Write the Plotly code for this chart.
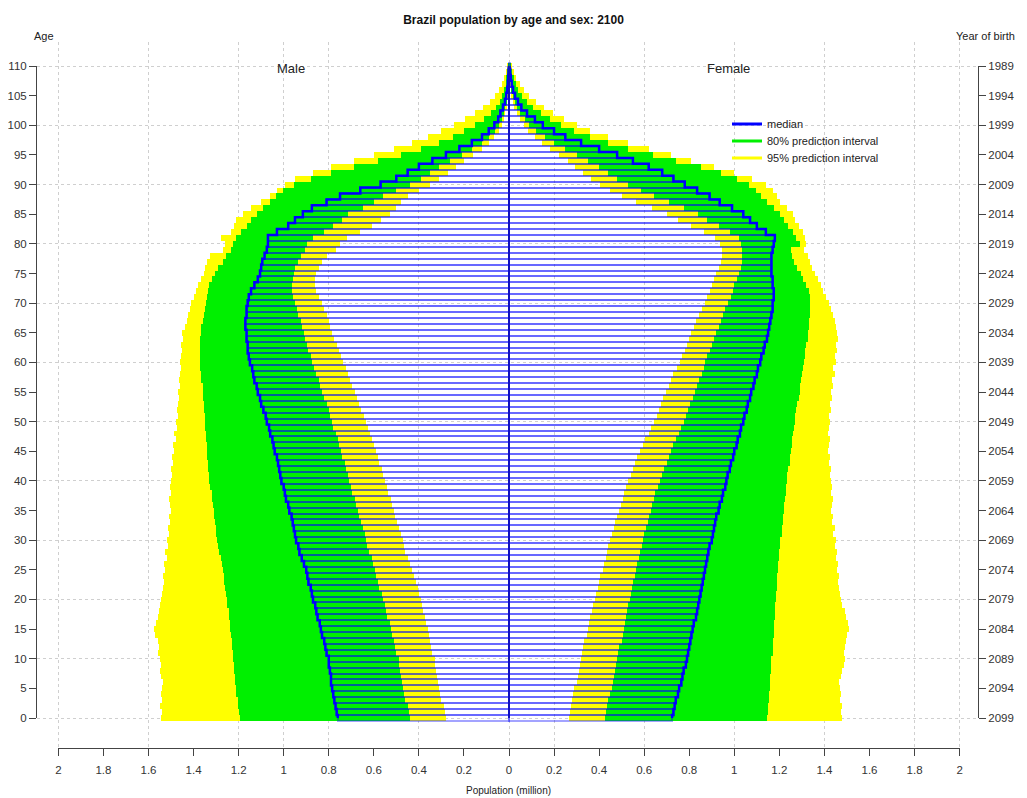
import plotly.graph_objects as go

ages = list(range(0, 111))

# Male (million)
m_med = [0.76,0.765,0.77,0.775,0.78,0.785,0.79,0.79,0.795,0.80,
 0.80,0.81,0.815,0.82,0.83,0.835,0.84,0.85,0.855,0.86,
 0.87,0.875,0.88,0.89,0.895,0.90,0.91,0.92,0.93,0.935,
 0.945,0.95,0.955,0.96,0.965,0.975,0.98,0.99,0.995,1.00,
 1.01,1.015,1.02,1.025,1.03,1.04,1.045,1.05,1.06,1.065,
 1.075,1.08,1.09,1.10,1.105,1.115,1.12,1.13,1.135,1.14,
 1.15,1.155,1.16,1.16,1.165,1.165,1.17,1.17,1.165,1.165,
 1.16,1.155,1.145,1.13,1.115,1.105,1.10,1.095,1.085,1.075,
 1.07,1.07,1.03,0.98,0.95,0.915,0.875,0.81,0.75,0.66,
 0.57,0.50,0.45,0.40,0.34,0.28,0.22,0.165,0.12,0.09,
 0.065,0.048,0.038,0.027,0.018,0.012,0.008,0.005,0.003,0.002,0.001]
m_l80 = [0.44,0.445,0.45,0.46,0.465,0.47,0.475,0.48,0.485,0.49,
 0.49,0.50,0.505,0.51,0.52,0.525,0.53,0.54,0.545,0.55,
 0.56,0.565,0.575,0.58,0.59,0.595,0.605,0.61,0.62,0.63,
 0.635,0.64,0.65,0.655,0.665,0.67,0.68,0.685,0.695,0.70,
 0.71,0.715,0.725,0.73,0.74,0.745,0.755,0.76,0.77,0.78,
 0.785,0.795,0.80,0.81,0.82,0.83,0.84,0.845,0.855,0.865,
 0.875,0.88,0.89,0.895,0.905,0.91,0.92,0.925,0.935,0.94,
 0.95,0.96,0.965,0.965,0.96,0.955,0.95,0.935,0.925,0.905,
 0.895,0.87,0.82,0.78,0.74,0.715,0.65,0.60,0.56,0.50,
 0.44,0.39,0.35,0.31,0.26,0.21,0.165,0.12,0.09,0.063,
 0.045,0.032,0.024,0.016,0.011,0.007,0.005,0.003,0.002,0.001,0.0005]
m_l95 = [0.28,0.285,0.29,0.30,0.305,0.31,0.315,0.32,0.325,0.33,
 0.33,0.34,0.345,0.35,0.355,0.36,0.37,0.375,0.38,0.385,
 0.39,0.40,0.405,0.415,0.42,0.43,0.44,0.45,0.46,0.465,
 0.47,0.48,0.49,0.495,0.505,0.51,0.52,0.525,0.535,0.54,
 0.55,0.56,0.565,0.575,0.58,0.59,0.60,0.61,0.615,0.625,
 0.635,0.645,0.655,0.665,0.675,0.685,0.695,0.705,0.715,0.725,
 0.735,0.745,0.755,0.765,0.775,0.785,0.795,0.80,0.81,0.82,
 0.83,0.845,0.855,0.86,0.86,0.855,0.845,0.83,0.81,0.77,
 0.75,0.72,0.66,0.61,0.57,0.53,0.50,0.48,0.45,0.40,
 0.35,0.31,0.27,0.235,0.20,0.16,0.12,0.09,0.065,0.045,
 0.032,0.022,0.016,0.011,0.007,0.005,0.003,0.002,0.001,0.0005,0.0002]
m_h80 = [1.195,1.20,1.205,1.205,1.21,1.21,1.215,1.215,1.22,1.22,
 1.225,1.225,1.23,1.23,1.235,1.24,1.24,1.245,1.245,1.25,
 1.25,1.255,1.26,1.265,1.265,1.27,1.275,1.28,1.285,1.29,
 1.295,1.30,1.30,1.305,1.31,1.31,1.315,1.32,1.32,1.325,
 1.33,1.33,1.335,1.335,1.34,1.34,1.34,1.345,1.345,1.35,
 1.35,1.35,1.355,1.355,1.36,1.36,1.36,1.365,1.365,1.37,
 1.37,1.37,1.37,1.37,1.37,1.365,1.365,1.36,1.355,1.35,
 1.345,1.34,1.335,1.33,1.32,1.305,1.29,1.27,1.255,1.235,
 1.225,1.21,1.19,1.165,1.145,1.12,1.09,1.06,1.035,1.005,
 0.955,0.88,0.79,0.69,0.58,0.48,0.39,0.31,0.25,0.20,
 0.15,0.11,0.08,0.058,0.042,0.03,0.021,0.015,0.01,0.006,0.004]
m_h95 = [1.545,1.54,1.55,1.54,1.545,1.54,1.535,1.545,1.55,1.545,
 1.55,1.56,1.555,1.56,1.57,1.575,1.565,1.56,1.555,1.55,
 1.545,1.54,1.535,1.53,1.535,1.525,1.53,1.52,1.525,1.515,
 1.52,1.51,1.515,1.505,1.51,1.50,1.505,1.51,1.50,1.505,
 1.50,1.495,1.50,1.49,1.495,1.485,1.49,1.48,1.485,1.475,
 1.48,1.47,1.475,1.47,1.465,1.47,1.46,1.465,1.46,1.455,
 1.46,1.455,1.45,1.455,1.445,1.45,1.44,1.43,1.425,1.415,
 1.41,1.40,1.39,1.38,1.365,1.355,1.35,1.34,1.325,1.27,
 1.26,1.28,1.235,1.22,1.21,1.18,1.145,1.10,1.06,1.03,
 0.995,0.95,0.87,0.79,0.69,0.60,0.51,0.43,0.36,0.30,
 0.245,0.195,0.15,0.115,0.085,0.062,0.045,0.032,0.022,0.015,0.01]

# Female (million)
f_med = [0.724,0.73,0.735,0.74,0.75,0.755,0.765,0.77,0.775,0.785,
 0.79,0.795,0.80,0.805,0.81,0.815,0.82,0.83,0.835,0.84,
 0.845,0.85,0.855,0.86,0.865,0.87,0.875,0.88,0.885,0.89,
 0.90,0.905,0.91,0.915,0.92,0.93,0.935,0.945,0.95,0.96,
 0.965,0.97,0.98,0.985,0.995,1.00,1.01,1.015,1.025,1.03,
 1.04,1.045,1.055,1.06,1.07,1.075,1.085,1.09,1.10,1.105,
 1.115,1.12,1.13,1.135,1.145,1.15,1.155,1.16,1.165,1.17,
 1.17,1.175,1.175,1.17,1.17,1.165,1.165,1.165,1.165,1.17,
 1.175,1.18,1.14,1.10,1.07,1.04,0.99,0.935,0.89,0.835,
 0.78,0.73,0.68,0.62,0.55,0.48,0.40,0.32,0.25,0.20,
 0.15,0.115,0.08,0.055,0.04,0.027,0.018,0.012,0.008,0.005,0.003]
f_l80 = [0.427,0.43,0.435,0.44,0.45,0.455,0.46,0.465,0.47,0.475,
 0.48,0.485,0.49,0.50,0.505,0.51,0.515,0.52,0.525,0.53,
 0.535,0.54,0.545,0.55,0.56,0.565,0.57,0.575,0.58,0.59,
 0.595,0.60,0.61,0.615,0.62,0.63,0.635,0.645,0.65,0.66,
 0.67,0.68,0.69,0.70,0.71,0.72,0.73,0.74,0.755,0.765,
 0.775,0.785,0.795,0.805,0.815,0.825,0.835,0.845,0.855,0.865,
 0.87,0.88,0.89,0.90,0.91,0.92,0.93,0.94,0.95,0.96,
 0.97,0.985,0.995,1.0,1.01,1.02,1.03,1.035,1.035,1.035,
 1.03,1.02,0.98,0.93,0.88,0.84,0.775,0.71,0.645,0.585,
 0.53,0.48,0.44,0.40,0.35,0.30,0.25,0.20,0.16,0.12,
 0.09,0.07,0.05,0.035,0.025,0.017,0.011,0.007,0.004,0.002,0.001]
f_l95 = [0.267,0.27,0.275,0.28,0.285,0.29,0.30,0.305,0.31,0.315,
 0.32,0.325,0.33,0.335,0.345,0.35,0.355,0.36,0.37,0.375,
 0.38,0.385,0.395,0.40,0.405,0.415,0.42,0.43,0.435,0.44,
 0.45,0.455,0.465,0.47,0.48,0.49,0.495,0.505,0.51,0.52,
 0.53,0.54,0.55,0.56,0.57,0.58,0.595,0.605,0.62,0.63,
 0.645,0.655,0.665,0.675,0.685,0.695,0.71,0.72,0.73,0.745,
 0.76,0.77,0.78,0.79,0.80,0.81,0.82,0.83,0.845,0.855,
 0.87,0.88,0.89,0.90,0.91,0.92,0.93,0.94,0.945,0.945,
 0.935,0.915,0.865,0.81,0.75,0.70,0.635,0.565,0.50,0.45,
 0.405,0.365,0.33,0.295,0.26,0.22,0.18,0.145,0.115,0.085,
 0.065,0.048,0.034,0.024,0.016,0.01,0.007,0.004,0.002,0.001,0.0005]
f_h80 = [1.147,1.15,1.15,1.155,1.155,1.16,1.16,1.16,1.165,1.165,
 1.165,1.17,1.17,1.17,1.175,1.175,1.175,1.18,1.18,1.18,
 1.185,1.185,1.19,1.19,1.19,1.195,1.195,1.20,1.20,1.205,
 1.205,1.21,1.21,1.215,1.215,1.22,1.22,1.225,1.23,1.23,
 1.235,1.235,1.24,1.245,1.245,1.25,1.255,1.255,1.26,1.265,
 1.27,1.27,1.275,1.28,1.285,1.29,1.29,1.295,1.30,1.305,
 1.31,1.315,1.315,1.32,1.325,1.325,1.33,1.33,1.335,1.335,
 1.335,1.335,1.33,1.32,1.305,1.295,1.28,1.265,1.255,1.25,
 1.29,1.275,1.26,1.24,1.22,1.205,1.175,1.145,1.12,1.095,
 1.065,1.01,0.94,0.85,0.74,0.64,0.53,0.44,0.36,0.29,
 0.23,0.18,0.14,0.105,0.078,0.057,0.041,0.029,0.02,0.013,0.008]
f_h95 = [1.48,1.475,1.48,1.47,1.475,1.47,1.465,1.475,1.48,1.485,
 1.49,1.485,1.49,1.495,1.50,1.51,1.505,1.495,1.49,1.48,
 1.475,1.47,1.465,1.46,1.465,1.455,1.46,1.45,1.455,1.445,
 1.45,1.44,1.445,1.435,1.44,1.43,1.435,1.44,1.43,1.435,
 1.43,1.425,1.43,1.42,1.425,1.415,1.42,1.425,1.415,1.42,
 1.425,1.42,1.43,1.425,1.435,1.43,1.44,1.435,1.445,1.44,
 1.45,1.445,1.455,1.45,1.46,1.455,1.45,1.445,1.44,1.43,
 1.42,1.405,1.395,1.385,1.37,1.36,1.345,1.335,1.325,1.31,
 1.32,1.315,1.305,1.285,1.27,1.26,1.235,1.205,1.19,1.17,
 1.14,1.08,1.00,0.91,0.81,0.72,0.62,0.53,0.44,0.36,
 0.30,0.245,0.195,0.155,0.12,0.09,0.066,0.047,0.033,0.022,0.014]

x_tick_vals = [-2, -1.8, -1.6, -1.4, -1.2, -1, -0.8, -0.6, -0.4, -0.2, 0,
               0.2, 0.4, 0.6, 0.8, 1, 1.2, 1.4, 1.6, 1.8, 2]
x_tick_text = ["2", "1.8", "1.6", "1.4", "1.2", "1", "0.8", "0.6", "0.4", "0.2", "0",
               "0.2", "0.4", "0.6", "0.8", "1", "1.2", "1.4", "1.6", "1.8", "2"]
age_ticks = [0, 5, 10, 15, 20, 25, 30, 35, 40, 45, 50, 55, 60, 65, 70, 75, 80,
             85, 90, 95, 100, 105, 110]
birth_labels = ["2099", "2094", "2089", "2084", "2079", "2074", "2069", "2064",
                "2059", "2054", "2049", "2044", "2039", "2034", "2029", "2024",
                "2019", "2014", "2009", "2004", "1999", "1994", "1989"]
grid_x = [-2, -1.6, -1.2, -1.0, -0.8, -0.4, 0, 0.2, 0.6, 1.0, 1.4, 1.8, 2.0]
grid_y = [0, 10, 20, 30, 40, 50, 60, 70, 80, 90, 100, 110]
legend_names = ["median", "80% prediction interval", "95% prediction interval"]

YELLOW = "#FFFF00"
GREEN = "#00F000"
BLUE = "#0000FF"
STRIPE = "rgba(0,0,255,0.36)"
FONT = "Liberation Sans, Arial, sans-serif"

W, H = 1027, 798
OFF = 8                    # page body margin
X0, XS = 509.0, 225.3      # pixel of 0, pixels per million
Y0, YS = 718.0, 5.927      # pixel of age 0, pixels per year


def px(p):
    return (p - OFF) / W


def py(p):
    return 1 - (p - OFF) / H


fig = go.Figure()

def add_side(sign, med, l80, h80, l95, h95):
    if sign < 0:
        base95 = [-v for v in h95]
        base80 = [-v for v in h80]
        basem = [-v for v in med]
    else:
        base95 = l95
        base80 = l80
        basem = [0] * len(med)
    fig.add_trace(go.Bar(orientation="h", y=ages, base=base95,
                         x=[a - b for a, b in zip(h95, l95)], width=1,
                         marker=dict(color=YELLOW, line=dict(width=0)),
                         showlegend=False, hoverinfo="skip"))
    fig.add_trace(go.Bar(orientation="h", y=ages, base=base80,
                         x=[a - b for a, b in zip(h80, l80)], width=1,
                         marker=dict(color=GREEN, line=dict(width=0)),
                         showlegend=False, hoverinfo="skip"))
    fig.add_trace(go.Bar(orientation="h", y=ages, base=basem, x=med, width=1,
                         marker=dict(color="rgba(0,0,0,0)",
                                     line=dict(color=STRIPE, width=2)),
                         showlegend=False, hoverinfo="skip"))

add_side(-1, m_med, m_l80, m_h80, m_l95, m_h95)
add_side(1, f_med, f_l80, f_h80, f_l95, f_h95)

# median outline (step edges) and the shared zero baseline of the bars
fig.add_trace(go.Scatter(x=[-v for v in m_med], y=ages, mode="lines",
                         line=dict(color=BLUE, width=2.5, shape="vhv"),
                         showlegend=False, hoverinfo="skip"))
fig.add_trace(go.Scatter(x=f_med, y=ages, mode="lines",
                         line=dict(color=BLUE, width=2.5, shape="vhv"),
                         showlegend=False, hoverinfo="skip"))
fig.add_trace(go.Scatter(x=[0] * len(ages), y=ages, mode="lines",
                         line=dict(color="#1010C0", width=2),
                         showlegend=False, hoverinfo="skip"))

# legend entries (one legend box each so the spacing can follow the original)
for i, (name, col) in enumerate(zip(legend_names, [BLUE, GREEN, YELLOW])):
    fig.add_trace(go.Scatter(x=[None], y=[None], mode="lines", name=name,
                             line=dict(color=col, width=3),
                             legend="legend" if i == 0 else f"legend{i + 1}"))

# empty traces so the axis-only subplots are drawn
for xa, ya in [("x2", "y2"), ("x3", "y3"), ("x3", "y4")]:
    fig.add_trace(go.Scatter(x=[None], y=[None], xaxis=xa, yaxis=ya,
                             mode="lines", showlegend=False, hoverinfo="skip"))

AXC = "#444444"
TICKF = dict(family=FONT, size=11.5, color="#333333")


def leg(ypix):
    return dict(x=px(727), y=py(ypix), xanchor="left", yanchor="middle",
                bgcolor="rgba(0,0,0,0)", font=dict(family=FONT, size=11),
                borderwidth=0)


fig.update_layout(
    width=W, height=H, autosize=False,
    margin=dict(l=0, r=0, t=0, b=0, autoexpand=False),
    paper_bgcolor="white", plot_bgcolor="rgba(0,0,0,0)",
    barmode="overlay", bargap=0,
    font=dict(family=FONT, size=11, color="#222222"),
    title=dict(text="<b>Brazil population by age and sex: 2100</b>",
               font=dict(family=FONT, size=12, color="#111111"),
               x=px(513.5), xref="paper", xanchor="center",
               y=py(20), yref="paper", yanchor="middle", automargin=False),
    xaxis=dict(domain=[px(37), px(978)],
               range=[(37 - X0) / XS, (978 - X0) / XS],
               tickvals=grid_x, showticklabels=False, ticks="",
               showgrid=True, gridcolor="#CFCFCF", griddash="dot", gridwidth=1,
               zeroline=False, showline=False, fixedrange=True,
               automargin=False),
    yaxis=dict(domain=[py(748), py(42)],
               range=[(Y0 - 748) / YS, (Y0 - 42) / YS],
               tickvals=grid_y, showticklabels=False, ticks="",
               showgrid=True, gridcolor="#CFCFCF", griddash="dot", gridwidth=1,
               zeroline=False, showline=False, fixedrange=True,
               automargin=False),
    # bottom axis
    xaxis2=dict(domain=[px(X0 - 2 * XS), px(X0 + 2 * XS)], range=[-2, 2],
                anchor="y2", tickvals=x_tick_vals, ticktext=x_tick_text,
                ticks="outside", ticklen=7, tickcolor=AXC, tickwidth=1,
                showline=True, linecolor=AXC, linewidth=1,
                showgrid=False, zeroline=False, tickfont=TICKF,
                ticklabelstandoff=4, fixedrange=True, automargin=False),
    yaxis2=dict(domain=[py(748), py(748) + 0.01], range=[0, 1],
                anchor="x2", visible=False, fixedrange=True, automargin=False),
    # left/right age axes
    xaxis3=dict(domain=[px(37), px(978)], range=[0, 1], anchor="y3",
                visible=False, fixedrange=True, automargin=False),
    yaxis3=dict(domain=[py(Y0), py(Y0 - 110 * YS)], range=[0, 110],
                anchor="x3", side="left", tickvals=age_ticks,
                ticks="outside", ticklen=7, tickcolor=AXC,
                showline=True, linecolor=AXC, linewidth=1,
                showgrid=False, zeroline=False, tickfont=TICKF,
                fixedrange=True, automargin=False),
    yaxis4=dict(range=[0, 110], overlaying="y3", anchor="x3", side="right",
                tickvals=age_ticks, ticktext=birth_labels,
                ticks="outside", ticklen=7, tickcolor=AXC,
                showline=True, linecolor=AXC, linewidth=1,
                showgrid=False, zeroline=False, tickfont=TICKF,
                fixedrange=True, automargin=False),
    legend=leg(124),
    legend2=leg(141),
    legend3=leg(158),
    annotations=[
        dict(text="Age", x=px(44), y=py(36), xanchor="center",
             yanchor="middle", xref="paper", yref="paper",
             showarrow=False, font=dict(size=11)),
        dict(text="Year of birth", x=px(1017), y=py(36), xanchor="right",
             yanchor="middle", xref="paper", yref="paper",
             showarrow=False, font=dict(size=11)),
        dict(text="Male", x=px(291), y=py(68), xanchor="center",
             yanchor="middle", xref="paper", yref="paper",
             showarrow=False, font=dict(size=13)),
        dict(text="Female", x=px(728), y=py(68), xanchor="center",
             yanchor="middle", xref="paper", yref="paper",
             showarrow=False, font=dict(size=13)),
        dict(text="Population (million)", x=px(508), y=py(790),
             xanchor="center", yanchor="middle", xref="paper", yref="paper",
             showarrow=False, font=dict(size=10)),
    ],
)

fig.write_html("out.html")
